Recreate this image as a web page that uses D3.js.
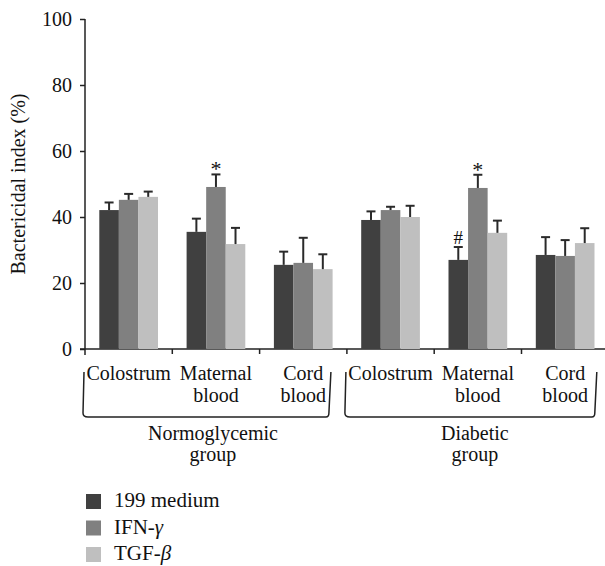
<!DOCTYPE html>
<html>
<head>
<meta charset="utf-8">
<script src="https://d3js.org/d3.v7.min.js"></script>
<style>
  body { margin: 0; background: #fff; }
  text { font-family: "Liberation Serif", "Times New Roman", serif; fill: #111; }
</style>
</head>
<body>
<svg id="chart"></svg>
<script>
// values
const columns = ["N-Colostrum", "N-Maternal", "N-Cord", "D-Colostrum", "D-Maternal", "D-Cord"]
const columnLabels = [["Colostrum"], ["Maternal", "blood"], ["Cord", "blood"],
                      ["Colostrum"], ["Maternal", "blood"], ["Cord", "blood"]]
const groups = [["Normoglycemic", "group"], ["Diabetic", "group"]]
const series = ["199 medium", "IFN-γ", "TGF-β"]
const medium = [42.1, 35.5, 25.5, 39.1, 27.0, 28.5]
const ifn    = [45.2, 49.1, 26.1, 42.1, 48.8, 28.2]
const tgf    = [46.1, 31.8, 24.2, 40.0, 35.2, 32.1]
const mediumErr = [2.3, 4.0, 4.0, 2.6, 3.9, 5.4]
const ifnErr    = [1.8, 3.8, 7.6, 1.0, 4.0, 4.8]
const tgfErr    = [1.6, 4.9, 4.5, 3.4, 3.7, 4.5]
const yTicks = [0, 20, 40, 60, 80, 100]
// significance marks: column, series index, symbol
const marks = [[1, 1, "*"], [4, 1, "*"], [4, 0, "#"]]

const colors = ["#404040", "#808080", "#bfbfbf"]
const values = [medium, ifn, tgf]
const errors = [mediumErr, ifnErr, tgfErr]

const width = 605, height = 566
const svg = d3.select("#chart").attr("width", width).attr("height", height)

const x0 = d3.scaleBand().domain(columns).range([85, 608.8]).padding(0)
const bw = x0.bandwidth()
const x1 = d3.scaleBand().domain(d3.range(3)).range([14.3, bw - 14.3]).padding(0)
const y = d3.scaleLinear().domain([0, 100]).range([349, 19])

// y axis
const yAxis = svg.append("g")
    .attr("transform", "translate(85,0)")
    .call(d3.axisLeft(y).tickValues(yTicks).tickSize(5).tickPadding(8))
yAxis.select(".domain").attr("d", "M0," + y(100) + "V" + (y(0) + 6)).attr("stroke", "#222").attr("stroke-width", 1.5)
yAxis.selectAll(".tick line").attr("stroke", "#222").attr("stroke-width", 1.5)
yAxis.selectAll(".tick text").style("font-family", "Liberation Serif").style("font-size", "20px").attr("fill", "#111")

svg.append("text")
    .attr("transform", "translate(25," + y(50) + ") rotate(-90)")
    .attr("text-anchor", "middle")
    .style("font-size", "20px")
    .text("Bactericidal index (%)")

// x axis line and ticks at band edges
svg.append("line")
    .attr("x1", 80).attr("x2", 605).attr("y1", y(0)).attr("y2", y(0))
    .attr("stroke", "#222").attr("stroke-width", 1.5)
svg.append("g").selectAll("line")
    .data(columns.slice(1))
    .join("line")
    .attr("x1", d => x0(d)).attr("x2", d => x0(d))
    .attr("y1", y(0)).attr("y2", y(0) + 5)
    .attr("stroke", "#222").attr("stroke-width", 1.5)

// bars
const bars = svg.append("g")
values.forEach((vals, s) => {
    bars.selectAll(".bar" + s)
        .data(vals)
        .join("rect")
        .attr("class", "bar" + s)
        .attr("x", (d, i) => x0(columns[i]) + x1(s))
        .attr("y", d => y(d))
        .attr("width", x1.bandwidth())
        .attr("height", d => y(0) - y(d))
        .attr("fill", colors[s])
})

// error bars (upper only)
values.forEach((vals, s) => {
    vals.forEach((v, i) => {
        const cx = x0(columns[i]) + x1(s) + x1.bandwidth() / 2
        const top = y(v + errors[s][i])
        const g = bars.append("g").attr("stroke", "#2a2a2a").attr("stroke-width", 2)
        g.append("line").attr("x1", cx).attr("x2", cx).attr("y1", y(v)).attr("y2", top)
        g.append("line").attr("x1", cx - 4.5).attr("x2", cx + 4.5).attr("y1", top).attr("y2", top)
    })
})

// significance symbols
svg.append("g").selectAll("text")
    .data(marks)
    .join("text")
    .attr("x", d => x0(columns[d[0]]) + x1(d[1]) + x1.bandwidth() / 2)
    .attr("y", d => y(values[d[1]][d[0]] + errors[d[1]][d[0]]) + (d[2] === "*" ? 2 : -3))
    .attr("text-anchor", "middle")
    .style("font-size", d => d[2] === "*" ? "22px" : "19px")
    .text(d => d[2])

// category labels, one text per line
const catG = svg.append("g")
columnLabels.forEach((lines, i) => {
    lines.forEach((l, k) => {
        catG.append("text")
            .attr("x", x0(columns[i]) + bw / 2)
            .attr("y", 380 + k * 22)
            .attr("text-anchor", "middle")
            .style("font-size", "20px")
            .text(l)
    })
})

// braces and group labels
groups.forEach((lines, gi) => {
    const left = x0(columns[gi * 3]) - 2
    const right = x0(columns[gi * 3 + 2]) + bw - (gi === 0 ? 16 : 12)
    const top = 372, bot = 417
    const path = d3.path()
    path.moveTo(left + 1, top)
    path.lineTo(left, bot - 4)
    path.quadraticCurveTo(left, bot, left + 5, bot)
    path.lineTo(right - 5, bot)
    path.quadraticCurveTo(right - 2, bot, right - 2, bot - 4)
    path.lineTo(right, top)
    svg.append("path").attr("d", path.toString())
        .attr("fill", "none").attr("stroke", "#222").attr("stroke-width", 1.5)

    const cx = (x0(columns[gi * 3]) + x0(columns[gi * 3 + 2]) + bw) / 2 - 3
    lines.forEach((l, k) => {
        svg.append("text")
            .attr("text-anchor", "middle")
            .attr("x", cx)
            .attr("y", 440 + k * 21)
            .style("font-size", "20px")
            .text(l)
    })
})

// legend
const legend = svg.append("g").attr("transform", "translate(86,494)")
series.forEach((name, s) => {
    const row = legend.append("g").attr("transform", "translate(0," + (s * 26.5) + ")")
    row.append("rect").attr("width", 15).attr("height", 15).attr("fill", colors[s])
    const t = row.append("text").attr("x", 28).attr("y", 13).style("font-size", "21px")
    const parts = name.split("-")
    if (parts.length > 1) {
        t.append("tspan").text(parts[0] + "-")
        t.append("tspan").style("font-style", "italic").text(parts[1])
    } else {
        t.text(name)
    }
})
</script>
</body>
</html>
